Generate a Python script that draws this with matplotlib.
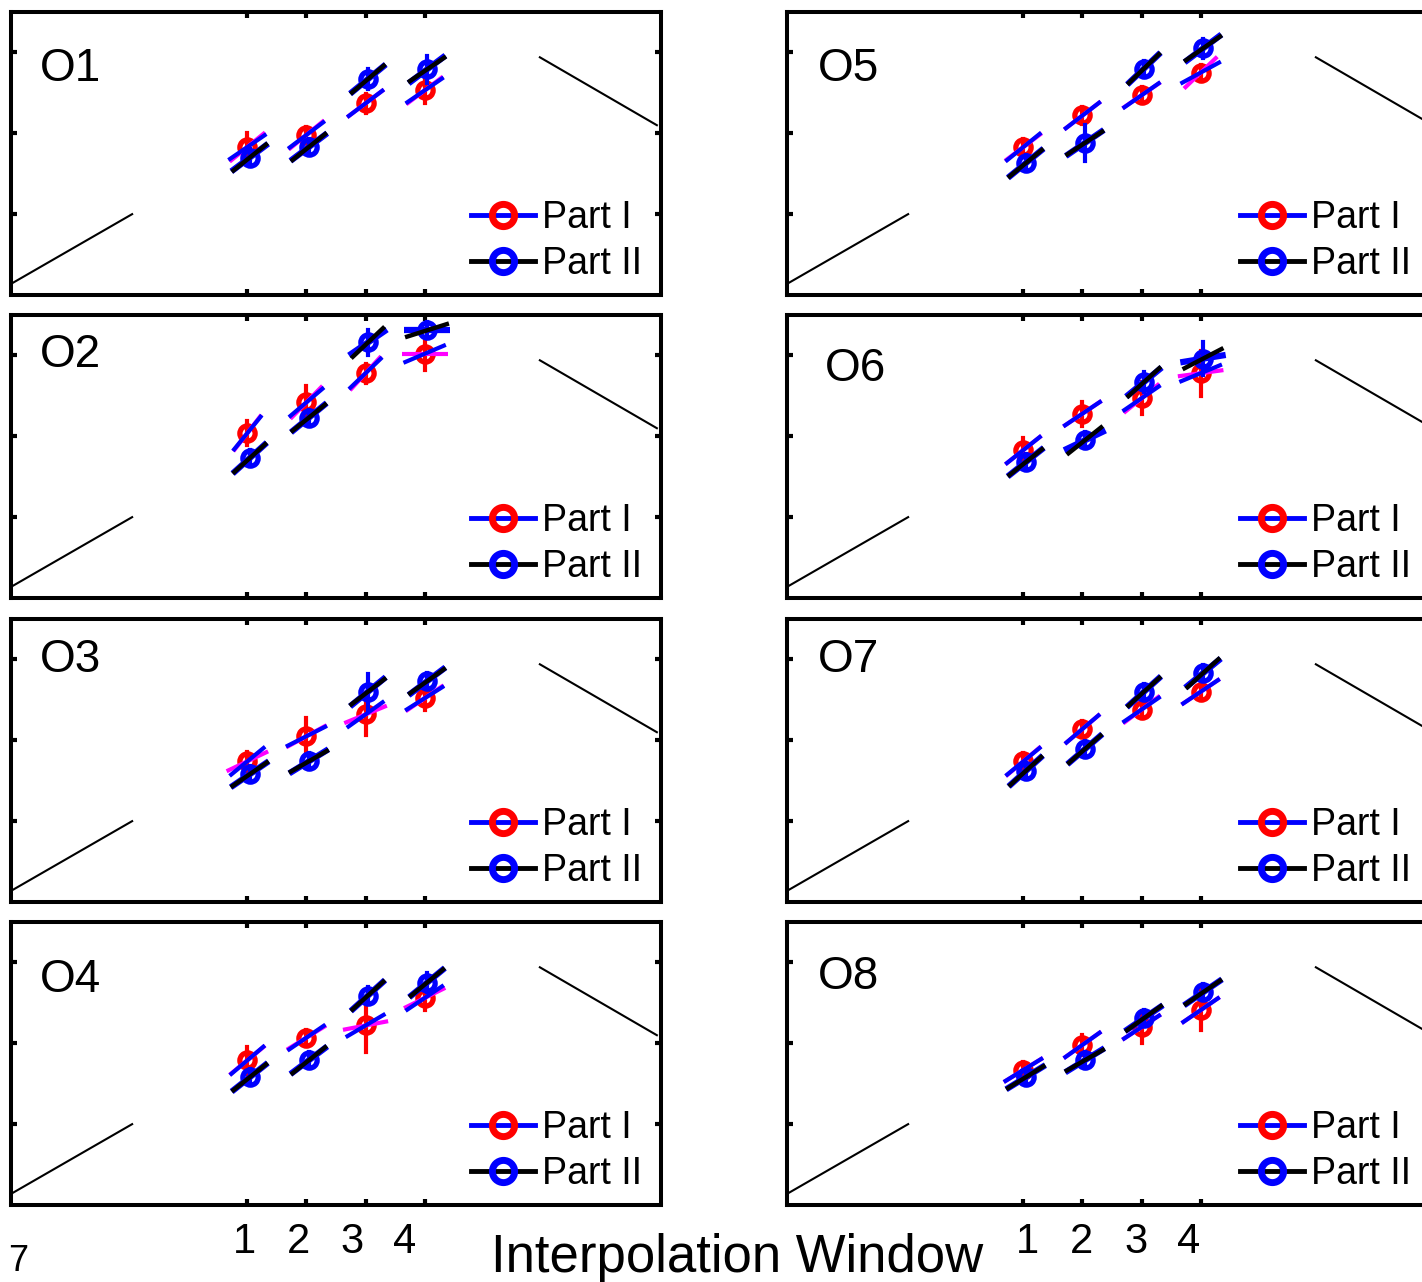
import matplotlib
matplotlib.use('Agg')
import matplotlib.pyplot as plt
from matplotlib.lines import Line2D
from matplotlib.transforms import ScaledTranslation
import math

plt.rcParams['font.family'] = ['Liberation Sans', 'DejaVu Sans']

# ---------------- data ----------------
panel_names = ['O1', 'O2', 'O3', 'O4', 'O5', 'O6', 'O7', 'O8']
windows = [1, 2, 3, 4]
tick_labels = ['1', '2', '3', '4']
series_labels = ['Part I', 'Part II']

# Part I (red circles) values per panel
part1_y = [[1.83, 1.98, 2.37, 2.53],
           [2.04, 2.42, 2.78, 3.02],
           [1.74, 2.05, 2.32, 2.52],
           [1.79, 2.07, 2.22, 2.56],
           [1.83, 2.22, 2.47, 2.75],
           [1.83, 2.28, 2.47, 2.78],
           [1.74, 2.14, 2.38, 2.60],
           [1.67, 1.98, 2.20, 2.41]]
# Part II (blue circles) values per panel
part2_y = [[1.70, 1.83, 2.67, 2.79],
           [1.73, 2.23, 3.16, 3.31],
           [1.58, 1.74, 2.60, 2.73],
           [1.58, 1.79, 2.59, 2.75],
           [1.63, 1.88, 2.80, 3.05],
           [1.68, 1.95, 2.67, 2.96],
           [1.62, 1.89, 2.60, 2.83],
           [1.58, 1.79, 2.31, 2.63]]
# vertical error half-lengths
part1_err = [[0.17, 0.10, 0.12, 0.15],
             [0.15, 0.20, 0.12, 0.20],
             [0.12, 0.22, 0.25, 0.15],
             [0.17, 0.10, 0.33, 0.15],
             [0.10, 0.10, 0.10, 0.10],
             [0.15, 0.15, 0.20, 0.28],
             [0.10, 0.10, 0.10, 0.10],
             [0.10, 0.12, 0.20, 0.25]]
part2_err = [[0.10, 0.10, 0.12, 0.17],
             [0.10, 0.10, 0.15, 0.10],
             [0.10, 0.10, 0.22, 0.10],
             [0.10, 0.10, 0.10, 0.12],
             [0.10, 0.22, 0.10, 0.12],
             [0.10, 0.10, 0.12, 0.20],
             [0.10, 0.10, 0.10, 0.10],
             [0.10, 0.10, 0.10, 0.10]]
# slopes of the lines through each point
part1_slope_blue = [[0.50, 0.55, 0.55, 0.50],
                    [0.90, 0.62, 0.70, 0.31],
                    [0.60, 0.37, 0.52, 0.46],
                    [0.62, 0.50, 0.43, 0.49],
                    [0.59, 0.56, 0.51, 0.40],
                    [0.58, 0.49, 0.50, 0.30],
                    [0.60, 0.62, 0.50, 0.49],
                    [0.45, 0.52, 0.48, 0.50]]
part1_slope_magenta = [[0.60, 0.60, 0.55, 0.55],
                       [0.95, 0.75, 0.80, 0.00],
                       [0.35, 0.40, 0.30, 0.50],
                       [0.60, 0.45, 0.14, 0.36],
                       [0.55, 0.56, 0.50, 0.70],
                       [0.58, 0.49, 0.60, 0.10],
                       [0.62, 0.62, 0.55, 0.49],
                       [0.45, 0.52, 0.48, 0.50]]
part2_slope_black = [[0.58, 0.58, 0.62, 0.50],
                     [0.66, 0.59, 0.69, 0.23],
                     [0.50, 0.42, 0.56, 0.52],
                     [0.58, 0.58, 0.66, 0.60],
                     [0.60, 0.48, 0.70, 0.51],
                     [0.58, 0.58, 0.66, 0.38],
                     [0.66, 0.63, 0.66, 0.66],
                     [0.45, 0.42, 0.52, 0.50]]
part2_slope_blue = [[0.55, 0.55, 0.60, 0.55],
                    [0.66, 0.60, 0.50, 0.00],
                    [0.50, 0.45, 0.60, 0.55],
                    [0.58, 0.55, 0.66, 0.60],
                    [0.60, 0.50, 0.70, 0.55],
                    [0.58, 0.35, 0.60, 0.12],
                    [0.66, 0.63, 0.66, 0.60],
                    [0.45, 0.45, 0.50, 0.50]]
# reference lines drawn in every panel
ref_left_x = [-2.97, -0.95]
ref_left_y = [0.15, 1.00]
ref_right_x = [5.95, 7.93]
ref_right_y = [2.94, 2.10]

# ---------------- layout ----------------
W, H = 1422, 1282
fig = plt.figure(figsize=(W / 100, H / 100), dpi=100)
lefts = [11, 787]
tops = [12, 315, 619, 922]
AW, AH = 650, 283
XLIM = (-3, 8)
YLIM = (0, 3.5)
label_pos = [(0.045, 0.80), (0.045, 0.86), (0.045, 0.855), (0.045, 0.795),
             (0.048, 0.80), (0.058, 0.81), (0.048, 0.855), (0.048, 0.805)]
legend_x = [0.708, 0.697]
label_shift = [[-3, -8, -14, -20], [4, -1, -6, -12]]
HALF_LEN = 23.0  # px


def seg(ax, x, y, m, color, lw, z):
    sx = ax.bbox.width / (XLIM[1] - XLIM[0])
    sy = ax.bbox.height / (YLIM[1] - YLIM[0])
    mp = m * sy / sx
    dxp = HALF_LEN / math.sqrt(1 + mp * mp)
    dx = dxp / sx
    ax.plot([x - dx, x + dx], [y - m * dx, y + m * dx], color=color, lw=lw,
            solid_capstyle='butt', zorder=z)


for i, name in enumerate(panel_names):
    col, row = i // 4, i % 4
    ax = fig.add_axes([lefts[col] / W, 1 - (tops[row] + AH) / H, AW / W, AH / H])
    ax.set_xlim(*XLIM)
    ax.set_ylim(*YLIM)
    ax.set_xticks(windows)
    ax.set_xticklabels(tick_labels)
    ax.set_yticks([1, 2, 3])
    ax.tick_params(direction='in', top=True, right=True, length=4, width=3,
                   labelleft=False, labelbottom=(row == 3), labelsize=30, pad=12)
    for sp in ax.spines.values():
        sp.set_linewidth(2.9)
    if row == 3:
        for k, lbl in enumerate(ax.get_xticklabels()):
            lbl.set_transform(lbl.get_transform() +
                              ScaledTranslation(label_shift[col][k] / 100, 0, fig.dpi_scale_trans))

    ax.plot(ref_left_x, ref_left_y, color='black', lw=1.5)
    ax.plot(ref_right_x, ref_right_y, color='black', lw=1.5)

    for j, x in enumerate(windows):
        ya, ea = part1_y[i][j], part1_err[i][j]
        yb, eb = part2_y[i][j], part2_err[i][j]
        xa, xb = x, x + 0.04
        ax.plot([xa, xa], [ya - ea, ya + ea], color='red', lw=3, zorder=3)
        ax.plot(xa, ya, 'o', mec='red', mfc='none', ms=11, mew=3.8, zorder=3)
        seg(ax, xa, ya, part1_slope_magenta[i][j], 'magenta', 3, 4)
        seg(ax, xa, ya, part1_slope_blue[i][j], 'blue', 3, 4)
        ax.plot([xb, xb], [yb - eb, yb + eb], color='blue', lw=3, zorder=5)
        ax.plot(xb, yb, 'o', mec='blue', mfc='none', ms=11, mew=3.8, zorder=5)
        seg(ax, xb, yb, part2_slope_blue[i][j], 'blue', 4.5, 6)
        seg(ax, xb, yb, part2_slope_black[i][j], 'black', 3.2, 7)

    ax.text(label_pos[i][0], label_pos[i][1], name, transform=ax.transAxes,
            fontsize=33, ha='left', va='center')

    handles = [Line2D([], [], color='blue', lw=3.5, marker='o', mec='red', mfc='none', ms=16, mew=5),
               Line2D([], [], color='black', lw=3.5, marker='o', mec='blue', mfc='none', ms=16, mew=5)]
    ax.legend(handles, series_labels, loc='center left', bbox_to_anchor=(legend_x[col], 0.19),
              frameon=False, fontsize=27, handlelength=1.7, handletextpad=0.2,
              labelspacing=0.28, borderpad=0, borderaxespad=0)

fig.text(737 / W, 10 / H, 'Interpolation Window', ha='center', va='baseline', fontsize=38)
fig.text(8 / W, (H - 1244) / H, '7', ha='left', va='top', fontsize=26)

fig.savefig('out.png', dpi=100)
